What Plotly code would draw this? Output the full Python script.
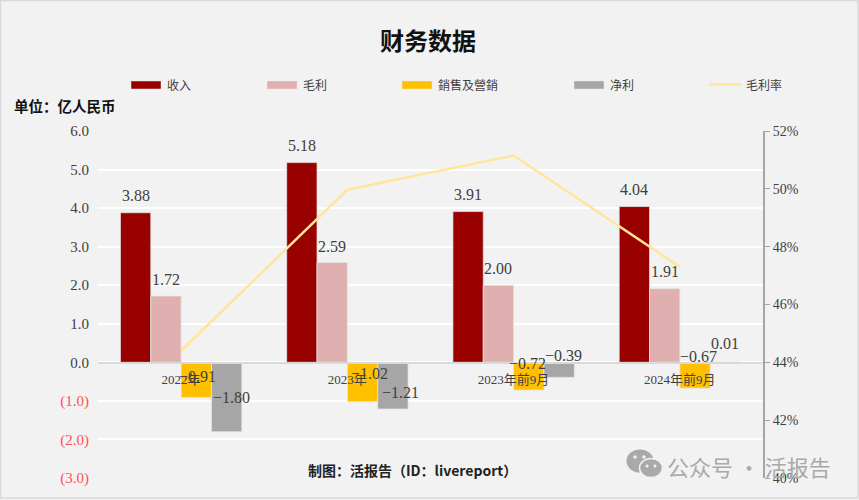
from __future__ import annotations

import plotly.graph_objects as go

WIDTH = 859
HEIGHT = 500

categories = ["2022年", "2023年", "2023年前9月", "2024年前9月"]
revenue = [3.88, 5.18, 3.91, 4.04]
gross_profit = [1.72, 2.59, 2.00, 1.91]
selling = [-0.91, -1.02, -0.72, -0.67]
net_profit = [-1.80, -1.21, -0.39, 0.01]
gross_margin = [44.4, 49.97, 51.15, 47.3]

left_ticks = [6, 5, 4, 3, 2, 1, 0, -1, -2, -3]
left_tick_labels = ["6.0", "5.0", "4.0", "3.0", "2.0", "1.0", "0.0", "(1.0)", "(2.0)", "(3.0)"]
right_ticks = [40, 42, 44, 46, 48, 50, 52]
right_tick_labels = ["40%", "42%", "44%", "46%", "48%", "50%", "52%"]

SERIF = "Liberation Serif, Noto Sans CJK SC"
SANS = "Noto Sans CJK SC"
TEXT = "#404040"
BAR_WIDTH_PX = 30.4

# name, values, colour, label nudges in px (right, up) per category
series = [
    ("收入", revenue, "#990000", [(0, 17), (0, 17), (0, 17), (0, 17)]),
    ("毛利", gross_profit, "#E0B0B0", [(0, 17), (0, 16), (0, 17), (0, 17)]),
    ("銷售及營銷", selling, "#FFC000", [(1, 21), (7, 28), (-1, 27), (3, 32)]),
    ("净利", net_profit, "#A6A6A6", [(5, 34), (8, 16), (4, 22), (0, 18)]),
]

# legend layout in px: swatch left edge of each entry
legend_left = [131, 267, 402, 574, 709]


def px_x(x: float) -> float:
    return x / WIDTH


def px_y(y: float) -> float:
    return 1 - y / HEIGHT


def paper_rect(x0: float, y0: float, x1: float, y1: float, **kwargs) -> dict:
    return dict(
        type="rect", xref="paper", yref="paper",
        x0=px_x(x0), x1=px_x(x1), y0=px_y(y0), y1=px_y(y1), **kwargs,
    )


def paper_ellipse(cx: float, cy: float, rx: float, ry: float, color: str, line: str | None = None) -> dict:
    return dict(
        type="circle", xref="paper", yref="paper",
        x0=px_x(cx - rx), x1=px_x(cx + rx), y0=px_y(cy + ry), y1=px_y(cy - ry),
        fillcolor=color, line=dict(color=line or color, width=1.5 if line else 0),
    )


def paper_text(text: str, x: float, y: float, size: float, color: str = TEXT, anchor: str = "left", family: str = SANS) -> dict:
    return dict(
        text=text, xref="paper", yref="paper", x=px_x(x), y=px_y(y),
        xanchor=anchor, yanchor="middle", showarrow=False,
        font=dict(family=family, size=size, color=color),
    )


fig = go.Figure()

for name, values, color, _ in series:
    fig.add_trace(
        go.Bar(
            name=name, x=categories, y=values,
            marker=dict(color=color, line=dict(color="#E6E6E6", width=0.75)),
            yaxis="y",
        )
    )

fig.add_trace(
    go.Scatter(
        name="毛利率", x=categories, y=gross_margin, mode="lines",
        line=dict(color="#FFE699", width=2.5), yaxis="y2",
    )
)

annotations = []
for slot, (name, values, color, nudges) in enumerate(series):
    for category, value, (dx, dy) in zip(categories, values, nudges):
        annotations.append(
            dict(
                text=f"{value:.2f}".replace("-", "−"), x=category, y=value, xref="x", yref="y",
                xshift=(slot - 1.5) * BAR_WIDTH_PX + dx, yshift=dy,
                showarrow=False, yanchor="middle",
                font=dict(family=SERIF, size=16, color=TEXT),
            )
        )

annotations += [
    paper_text("<b>财务数据</b>", 428, 40, 24, "#111111", "center"),
    paper_text("<b>单位：亿人民币</b>", 12, 106, 14.5, "#111111"),
    paper_text("<b>制图：活报告（ID：livereport）</b>", 412, 470, 14, "#222222", "center"),
    paper_text("公众号 · 活报告", 665, 466, 22, "#A9A9A9"),
]

shapes = [
    paper_rect(0.5, 0.5, 858, 498, fillcolor="rgba(0,0,0,0)", line=dict(color="#D9D9D9", width=1.5), layer="below"),
]

legend_entries = [(s[0], s[2]) for s in series]
for (name, color), left in zip(legend_entries, legend_left):
    shapes.append(paper_rect(left, 81, left + 30, 89, fillcolor=color, line=dict(color="#E6E6E6", width=0.5)))
    annotations.append(paper_text(name, left + 34, 84, 12))
shapes.append(
    dict(
        type="line", xref="paper", yref="paper",
        x0=px_x(legend_left[4]), x1=px_x(legend_left[4] + 32), y0=px_y(84.5), y1=px_y(84.5),
        line=dict(color="#FFE699", width=2.5),
    )
)
annotations.append(paper_text("毛利率", legend_left[4] + 35, 84, 12))

# watermark icon
shapes += [
    paper_ellipse(640, 461, 13.5, 11.5, "#A9A9A9"),
    paper_ellipse(651, 468, 11.5, 9.5, "#A9A9A9", "#F2F2F2"),
    paper_ellipse(635, 457, 1.8, 1.8, "#F2F2F2"),
    paper_ellipse(644, 457, 1.8, 1.8, "#F2F2F2"),
    paper_ellipse(647, 466, 1.5, 1.5, "#F2F2F2"),
    paper_ellipse(655, 466, 1.5, 1.5, "#F2F2F2"),
]

fig.update_layout(
    width=WIDTH,
    height=HEIGHT,
    margin=dict(l=0, r=0, t=0, b=0, autoexpand=False),
    paper_bgcolor="#F2F2F2",
    plot_bgcolor="#F2F2F2",
    barmode="group",
    bargap=0.27,
    bargroupgap=0,
    showlegend=False,
    annotations=annotations,
    shapes=shapes,
    xaxis=dict(
        domain=[px_x(98), px_x(763)],
        anchor="free",
        position=px_y(362.5),
        type="category",
        categoryorder="array",
        categoryarray=categories,
        showgrid=False,
        showline=True,
        linecolor="#D9D9D9",
        linewidth=2,
        ticks="outside",
        ticklen=5,
        tickcolor="rgba(0,0,0,0)",
        tickfont=dict(family=SERIF, size=13, color=TEXT),
    ),
    yaxis=dict(
        domain=[px_y(478), px_y(131)],
        range=[-3, 6],
        tickvals=left_ticks,
        ticktext=[
            f'<span style="color:#FF5050">{label}</span>' if tick < 0 else label
            for tick, label in zip(left_ticks, left_tick_labels)
        ],
        showgrid=True,
        gridcolor="#FFFFFF",
        gridwidth=1.5,
        zeroline=False,
        showline=False,
        ticks="outside",
        ticklen=5,
        tickcolor="rgba(0,0,0,0)",
        tickfont=dict(family=SERIF, size=15, color=TEXT),
    ),
    yaxis2=dict(
        overlaying="y",
        side="right",
        anchor="x",
        range=[40, 52],
        tickvals=right_ticks,
        ticktext=right_tick_labels,
        showgrid=False,
        zeroline=False,
        showline=True,
        linecolor="#A6A6A6",
        linewidth=2,
        ticks="outside",
        ticklen=5,
        tickcolor="#A6A6A6",
        tickfont=dict(family=SERIF, size=14, color=TEXT),
    ),
)

# the page's default body margin would shift the whole chart by 8px
fig.write_html(
    "out.html",
    config={"displayModeBar": False},
    post_script="document.body.style.margin = '0';",
)
